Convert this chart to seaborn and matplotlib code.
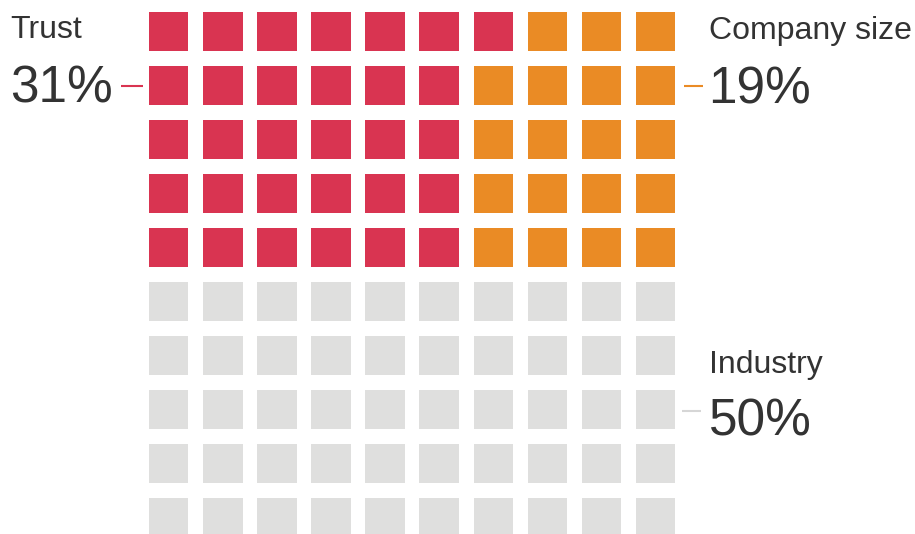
import numpy as np
import pandas as pd
import matplotlib
matplotlib.use("Agg")
import matplotlib.pyplot as plt
import seaborn as sns

# ---- data ----
categories = ["Trust", "Company size", "Industry"]
values = [31, 19, 50]
value_labels = ["31%", "19%", "50%"]
colors = ["#D93451", "#EA8B25", "#DFDFDE"]

n_cols, n_rows, block_rows = 10, 10, 5

# ---- build waffle cells (blocks of 5 rows, filled column by column) ----
cells = []
for block in range(n_rows // block_rows):
    for c in range(n_cols):
        for r in range(block_rows):
            cells.append((c, block * block_rows + r))
cat_of_cell = np.repeat(categories, values)
df = pd.DataFrame(cells, columns=["col", "row"])
df["category"] = cat_of_cell

sns.set_theme(style="white")
plt.rcParams["font.family"] = ["Liberation Sans", "DejaVu Sans"]

W, H = 915, 534
fig = plt.figure(figsize=(W / 100, H / 100), dpi=100)

# waffle axes in cell units
pitch_x, pitch_y = 54.1, 54.0
cx0, cy0 = 168.7, 31.5
ax = fig.add_axes([0, 0, 1, 1])
sns.scatterplot(data=df, x="col", y="row", hue="category",
                hue_order=categories, palette=colors, marker="s",
                s=(39.5 * 72 / 100) ** 2, linewidth=0, legend=False, ax=ax)
ax.set_xlim(-cx0 / pitch_x, (W - cx0) / pitch_x)
ax.set_ylim((H - cy0) / pitch_y, -cy0 / pitch_y)
ax.set_axis_off()

# overlay axes in pixel units for annotations
ov = fig.add_axes([0, 0, 1, 1])
ov.set_xlim(0, W)
ov.set_ylim(H, 0)
ov.set_axis_off()
ov.patch.set_alpha(0)

txt = "#333333"
label_fs, value_fs = 23, 37

# Trust (left)
ov.text(10, 38.5, categories[0], fontsize=label_fs, color=txt, ha="left", va="baseline")
ov.text(10, 102.5, value_labels[0], fontsize=value_fs, color=txt, ha="left", va="baseline")
ov.plot([121, 143], [85.5, 85.5], color=colors[0], lw=1.5, solid_capstyle="butt")

# Company size (right top)
ov.text(709, 39, categories[1], fontsize=label_fs, color=txt, ha="left", va="baseline")
ov.text(708, 103, value_labels[1], fontsize=value_fs, color=txt, ha="left", va="baseline")
ov.plot([684, 703], [86, 86], color=colors[1], lw=1.5, solid_capstyle="butt")

# Industry (right bottom)
ov.text(709, 372.7, categories[2], fontsize=label_fs, color=txt, ha="left", va="baseline")
ov.text(709, 436, value_labels[2], fontsize=value_fs, color=txt, ha="left", va="baseline")
ov.plot([682, 701], [411, 411], color="#D6D6D6", lw=1.5, solid_capstyle="butt")

fig.savefig("out.png", dpi=100)
